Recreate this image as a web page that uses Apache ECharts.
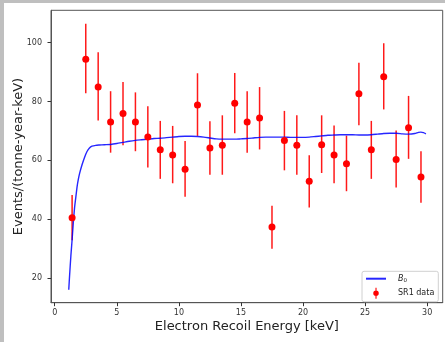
<!DOCTYPE html>
<html>
<head>
<meta charset="utf-8">
<script src="https://cdn.jsdelivr.net/npm/echarts@6/dist/echarts.min.js"></script>
<style>
html,body{margin:0;padding:0;background:#bfbfbf;width:445px;height:342px;overflow:hidden;}
#c{position:absolute;left:4px;top:3px;width:441px;height:339px;background:#fff;}
</style>
</head>
<body>
<div id="c"></div>
<script>
// Data points (SR1 data)
const dataX = [1.4, 2.5, 3.5, 4.5, 5.5, 6.5, 7.5, 8.5, 9.5, 10.5, 11.5, 12.5, 13.5, 14.5, 15.5, 16.5, 17.5, 18.5, 19.5, 20.5, 21.5, 22.5, 23.5, 24.5, 25.5, 26.5, 27.5, 28.5, 29.5];
const dataY = [40.5, 94.4, 84.9, 73.0, 75.9, 73.0, 67.9, 63.6, 61.8, 57.0, 78.8, 64.2, 65.1, 79.4, 73.0, 74.4, 37.3, 66.7, 65.1, 52.9, 65.3, 61.8, 58.8, 82.6, 63.6, 88.4, 60.3, 71.1, 54.3];
const errLow = [32.8, 82.8, 73.5, 62.6, 65.1, 63.1, 57.6, 53.7, 52.2, 47.6, 68.3, 55.1, 55.1, 69.2, 62.6, 63.7, 29.9, 56.6, 55.1, 44.0, 55.7, 52.2, 49.5, 71.9, 53.7, 77.3, 50.8, 60.5, 45.6];
const errHigh = [48.2, 106.4, 96.7, 83.5, 86.6, 83.1, 78.4, 73.4, 71.7, 66.6, 89.6, 73.3, 75.3, 89.7, 83.5, 84.9, 44.6, 76.8, 75.3, 61.7, 75.3, 71.8, 68.4, 93.2, 73.4, 99.8, 70.1, 81.9, 63.1];

// B0 model curve
const curveX = [1.13, 1.2, 1.3, 1.4, 1.5, 1.6, 1.7, 1.8, 1.9, 2.0, 2.2, 2.4, 2.6, 2.8, 3.0, 3.3, 3.6, 4.0, 4.5, 5.0, 5.5, 6.0, 6.5, 7.0, 7.5, 8.0, 8.5, 9.0, 9.5, 10.0, 10.5, 11.0, 11.5, 12.0, 12.5, 13.0, 13.5, 14.0, 14.5, 15.0, 15.5, 16.0, 16.5, 17.0, 17.5, 18.0, 18.5, 19.0, 19.5, 20.0, 20.5, 21.0, 21.5, 22.0, 22.5, 23.0, 23.5, 24.0, 24.5, 25.0, 25.5, 26.0, 26.5, 27.0, 27.5, 28.0, 28.5, 29.0, 29.3, 29.5, 29.7, 29.9];
const curveY = [16, 21, 27.5, 33, 39, 44, 47.5, 51, 53.5, 55.5, 58.5, 61, 63, 64.2, 64.8, 65.1, 65.2, 65.3, 65.4, 65.7, 66.1, 66.5, 66.8, 67.0, 67.2, 67.4, 67.5, 67.7, 67.9, 68.1, 68.2, 68.2, 68.1, 67.9, 67.6, 67.3, 67.2, 67.2, 67.2, 67.3, 67.4, 67.6, 67.8, 67.9, 67.9, 67.9, 67.9, 67.8, 67.8, 67.8, 67.9, 68.1, 68.3, 68.5, 68.6, 68.7, 68.7, 68.7, 68.6, 68.6, 68.7, 68.9, 69.1, 69.2, 69.2, 69.0, 68.9, 69.1, 69.5, 69.6, 69.4, 69.0];

// Tick labels
const xTicks = [0, 5, 10, 15, 20, 25, 30];
const yTicks = [20, 40, 60, 80, 100];

const FONT = 'DejaVu Sans';
const chart = echarts.init(document.getElementById('c'), null, {renderer: 'canvas'});

const option = {
  animation: false,
  backgroundColor: '#ffffff',
  grid: {left: 47, top: 7.3, right: 2.3, bottom: 39.3, show: true, borderColor: '#555', borderWidth: 1,
         backgroundColor: 'transparent', containLabel: false, outerBoundsMode: 'none'},
  xAxis: {
    type: 'value', min: -0.3, max: 31.25,
    name: 'Electron Recoil Energy [keV]', nameLocation: 'middle', nameGap: 17, nameMoveOverlap: false,
    nameTextStyle: {fontFamily: FONT, fontSize: 13, color: '#222'},
    axisLine: {show: true, onZero: false, lineStyle: {color: '#555', width: 1}},
    axisTick: {show: true, length: 3.5, customValues: xTicks, lineStyle: {color: '#333'}},
    axisLabel: {customValues: xTicks, fontFamily: FONT, fontSize: 8, color: '#333', margin: 6},
    splitLine: {show: false}
  },
  yAxis: {
    type: 'value', min: 11.6, max: 111,
    name: 'Events/(tonne-year-keV)', nameLocation: 'middle', nameGap: 26, nameMoveOverlap: false,
    nameTextStyle: {fontFamily: FONT, fontSize: 13, color: '#222'},
    axisLine: {show: true, onZero: false, lineStyle: {color: '#555', width: 1}},
    axisTick: {show: true, length: 3.5, customValues: yTicks, lineStyle: {color: '#333'}},
    axisLabel: {customValues: yTicks, fontFamily: FONT, fontSize: 8, color: '#333', margin: 9},
    splitLine: {show: false}
  },
  legend: {
    orient: 'vertical', right: 6.7, bottom: 40.3,
    padding: [3, 4, 3, 3],
    backgroundColor: 'rgba(255,255,255,0.8)',
    borderColor: '#d0d0d0', borderWidth: 1, borderRadius: 2,
    itemWidth: 20, itemHeight: 11, itemGap: 4,
    textStyle: {fontFamily: FONT, fontSize: 8, color: '#222', padding: [0, 0, 0, 7],
      rich: {it: {fontFamily: FONT, fontSize: 8, fontStyle: 'italic', color: '#222'},
             sub: {fontFamily: FONT, fontSize: 5.5, color: '#222', verticalAlign: 'bottom', padding: [4, 0, 0, 0]}}},
    formatter: function (n) { return n === 'B0' ? '{it|B}{sub|0}' : n; },
    data: [
      {name: 'B0', itemStyle: {opacity: 0}},
      {name: 'SR1 data', icon: 'path://M4.3,0 H5.7 V14 H4.3 Z M8.5,7 A3.5,3.5 0 1 1 1.5,7 A3.5,3.5 0 1 1 8.5,7 Z'}
    ]
  },
  series: [
    {
      name: 'B0', type: 'line', symbol: 'none', showSymbol: false, smooth: 0.2,
      data: curveX.map((x, i) => [x, curveY[i]]),
      lineStyle: {color: 'rgba(0,0,255,0.85)', width: 1.4},
      itemStyle: {color: 'rgba(0,0,255,0.7)'},
      z: 3
    },
    {
      name: 'SR1 data', type: 'custom',
      data: dataX.map((x, i) => [x, errLow[i], errHigh[i]]),
      encode: {x: 0, y: [1, 2]},
      renderItem: function (params, api) {
        const x = api.value(0);
        const p1 = api.coord([x, api.value(1)]);
        const p2 = api.coord([x, api.value(2)]);
        return {type: 'line', shape: {x1: p1[0], y1: p1[1], x2: p2[0], y2: p2[1]},
                style: {stroke: 'rgba(255,0,0,0.9)', lineWidth: 1.5}};
      },
      itemStyle: {color: '#ff0000'},
      z: 2
    },
    {
      name: 'SR1 data', type: 'scatter', symbol: 'circle', symbolSize: 7,
      data: dataX.map((x, i) => [x, dataY[i]]),
      itemStyle: {color: '#ff0000', opacity: 1},
      z: 4
    }
  ]
};
chart.setOption(option);
</script>
</body>
</html>
